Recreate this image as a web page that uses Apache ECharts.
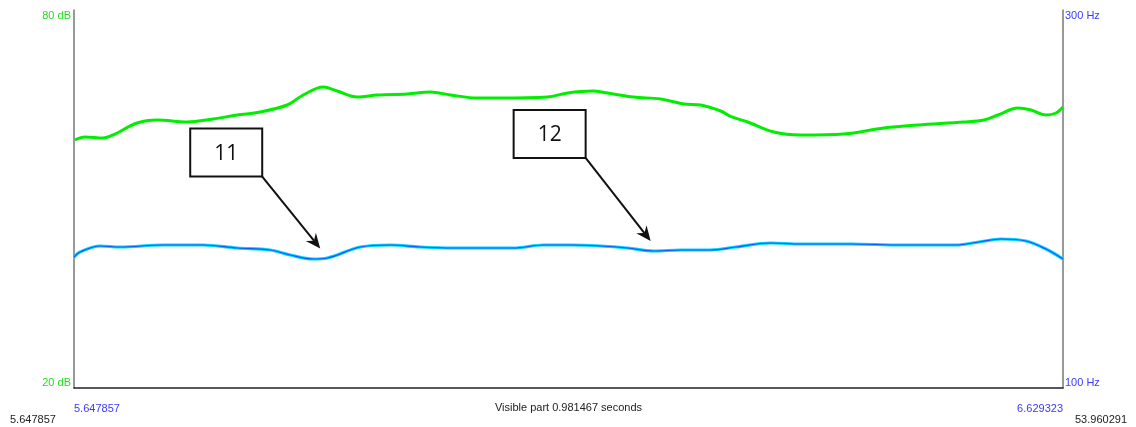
<!DOCTYPE html>
<html>
<head>
<meta charset="utf-8">
<script src="https://cdn.jsdelivr.net/npm/echarts@6/dist/echarts.min.js"></script>
<style>
  html, body { margin: 0; padding: 0; background: #fff; }
  #chart { width: 1136px; height: 427px; }
</style>
</head>
<body>
<div id="chart"></div>
<script>
// Visible window (seconds) and full file range
const timeStart = 5.647857;
const timeEnd = 6.629323;
const fileStart = 5.647857;
const fileEnd = 53.960291;
const visibleText = 'Visible part 0.981467 seconds';

// Axis tick values
const dbTicks = [20, 80];
const hzTicks = [100, 300];

// Intensity contour (dB)
const intensityTime = [5.6488, 5.6588, 5.6767, 5.6866, 5.7104, 5.7303, 5.7601, 5.7859, 5.8098, 5.8326,
  5.8594, 5.8753, 5.8952, 5.9091, 5.9290, 5.9489, 5.9787, 6.0015, 6.0214, 6.0482,
  6.0710, 6.1177, 6.1376, 6.1624, 6.1773, 6.2031, 6.2300, 6.2528, 6.2697, 6.2896,
  6.2995, 6.3164, 6.3423, 6.3690, 6.4118, 6.4515, 6.4853, 6.5310, 6.5509, 6.5648,
  6.5846, 6.5975, 6.6124, 6.6224, 6.6293];
const intensityDb = [59.37, 59.84, 59.68, 60.16, 62.06, 62.54, 62.22, 62.70, 63.33, 63.81,
  64.92, 66.51, 67.78, 67.14, 66.19, 66.51, 66.67, 66.98, 66.51, 66.03,
  66.03, 66.19, 66.83, 67.14, 66.83, 66.19, 65.87, 65.08, 64.92, 63.97,
  63.10, 62.22, 60.63, 60.16, 60.32, 61.27, 61.75, 62.22, 62.54, 63.33,
  64.44, 64.13, 63.33, 63.65, 64.60];

// Pitch contour (Hz)
const pitchTime = [5.6479, 5.6538, 5.6737, 5.6935, 5.7363, 5.7760, 5.8098, 5.8426, 5.8624, 5.8853,
  5.8992, 5.9320, 5.9618, 5.9916, 6.0244, 6.0840, 6.1138, 6.1406, 6.1704, 6.1972,
  6.2231, 6.2499, 6.2797, 6.3045, 6.3393, 6.3691, 6.4188, 6.4684, 6.5230, 6.5459,
  6.5677, 6.5926, 6.6124, 6.6293];
const pitchHz = [169.31, 171.96, 175.13, 174.60, 175.66, 175.66, 174.07, 173.02, 170.37, 168.25,
  168.78, 174.60, 175.66, 174.60, 174.07, 174.07, 175.66, 175.66, 175.13, 174.07,
  172.49, 173.02, 173.02, 174.60, 176.72, 176.19, 176.19, 175.66, 175.66, 177.25,
  178.84, 177.78, 173.54, 168.25];

// Numbered callouts pointing at the pitch contour
const calloutLabels = ['11', '12'];
const calloutTime = [5.8922, 6.2201];
const calloutHz = [168.5, 172.5];

const font = 'Liberation Sans, Arial, sans-serif';
const green = '#22dd22';
const blue = '#3a3aff';

const zip = (a, b) => a.map((v, i) => [v, b[i]]);

const chart = echarts.init(document.getElementById('chart'), null, { renderer: 'canvas' });

chart.setOption({
  animation: false,
  backgroundColor: '#fff',
  grid: { left: 74, right: 73, top: 10, bottom: 39, containLabel: false, outerBoundsMode: 'none' },
  xAxis: {
    type: 'value',
    min: timeStart,
    max: timeEnd,
    axisLine: { show: true, onZero: false, lineStyle: { color: '#222', width: 1.5 } },
    axisTick: { show: false },
    splitLine: { show: false },
    axisLabel: {
      customValues: [timeStart, timeEnd],
      formatter: v => v.toFixed(6),
      color: blue, fontSize: 11, fontFamily: font, margin: 15,
      alignMinLabel: 'left', alignMaxLabel: 'right'
    }
  },
  yAxis: [
    {
      type: 'value', position: 'left', min: dbTicks[0], max: dbTicks[1],
      axisLine: { show: true, onZero: false, lineStyle: { color: '#777', width: 1.5 } },
      axisTick: { show: false }, splitLine: { show: false },
      axisLabel: {
        customValues: dbTicks, formatter: '{value} dB', color: green,
        fontSize: 11, fontFamily: font, margin: 3,
        verticalAlignMinLabel: 'bottom', verticalAlignMaxLabel: 'top'
      }
    },
    {
      type: 'value', position: 'right', min: hzTicks[0], max: hzTicks[1],
      axisLine: { show: true, onZero: false, lineStyle: { color: '#777', width: 1.5 } },
      axisTick: { show: false }, splitLine: { show: false },
      axisLabel: {
        customValues: hzTicks, formatter: '{value} Hz', color: blue,
        fontSize: 11, fontFamily: font, margin: 2,
        verticalAlignMinLabel: 'bottom', verticalAlignMaxLabel: 'top'
      }
    }
  ],
  series: [
    {
      name: 'Intensity', type: 'line', yAxisIndex: 0, data: zip(intensityTime, intensityDb),
      smooth: 0.35, showSymbol: false, lineStyle: { color: '#00ee00', width: 3 }
    },
    {
      name: 'Pitch halo', type: 'line', yAxisIndex: 1, data: zip(pitchTime, pitchHz),
      smooth: 0.35, showSymbol: false, lineStyle: { color: '#10d0ff', width: 3.2 }
    },
    {
      name: 'Pitch', type: 'line', yAxisIndex: 1, data: zip(pitchTime, pitchHz),
      smooth: 0.35, showSymbol: false, lineStyle: { color: '#0060ff', width: 1.2 }
    }
  ]
});

// Callout boxes with arrows, anchored to pitch points; plus the time captions
function buildCallouts() {
  const els = [];
  const boxW = 72, boxH = 48;
  const gapAbove = 10;
  const boxDx = [-94, -101], boxDy = [-96, -107];
  calloutLabels.forEach((lab, i) => {
    const p = chart.convertToPixel({ xAxisIndex: 0, yAxisIndex: 1 }, [calloutTime[i], calloutHz[i]]);
    const tip = [p[0], p[1] - gapAbove];
    const cx = tip[0] + boxDx[i], cy = tip[1] + boxDy[i];
    const bx = cx - boxW / 2, by = cy - boxH / 2;
    els.push({
      type: 'rect', shape: { x: bx, y: by, width: boxW, height: boxH },
      style: { fill: '#fff', stroke: '#111', lineWidth: 2 }, z: 10
    });
    els.push({
      type: 'text', x: cx, y: cy + 1, z: 11,
      style: { text: lab, fontSize: 21, fontFamily: 'Open Sans, Lato, sans-serif', fill: '#111', align: 'center', verticalAlign: 'middle' }
    });
    const start = [bx + boxW, by + boxH];
    const ang = Math.atan2(tip[1] - start[1], tip[0] - start[0]);
    const len = 15, half = 6.5, notch = 10;
    const back = [tip[0] - len * Math.cos(ang), tip[1] - len * Math.sin(ang)];
    const nb = [tip[0] - notch * Math.cos(ang), tip[1] - notch * Math.sin(ang)];
    const perp = [-Math.sin(ang), Math.cos(ang)];
    els.push({
      type: 'line', z: 10,
      shape: { x1: start[0], y1: start[1], x2: nb[0], y2: nb[1] },
      style: { stroke: '#111', lineWidth: 2 }
    });
    els.push({
      type: 'polygon', z: 10,
      shape: { points: [tip, [back[0] + perp[0] * half, back[1] + perp[1] * half], nb, [back[0] - perp[0] * half, back[1] - perp[1] * half]] },
      style: { fill: '#111' }
    });
  });
  // caption centred under the plot
  const mid = chart.convertToPixel({ xAxisIndex: 0 }, (timeStart + timeEnd) / 2);
  els.push({
    type: 'text', x: mid, y: 408,
    style: { text: visibleText, fontSize: 11, fontFamily: font, fill: '#222', align: 'center', verticalAlign: 'middle' }
  });
  // full-file range labels under the axis ends
  els.push({ type: 'text', left: 10, top: 414, style: { text: fileStart.toFixed(6), fontSize: 11, fontFamily: font, fill: '#222' } });
  els.push({ type: 'text', right: 9, top: 414, style: { text: fileEnd.toFixed(6), fontSize: 11, fontFamily: font, fill: '#222' } });
  chart.setOption({ graphic: els });
}
buildCallouts();
</script>
</body>
</html>
